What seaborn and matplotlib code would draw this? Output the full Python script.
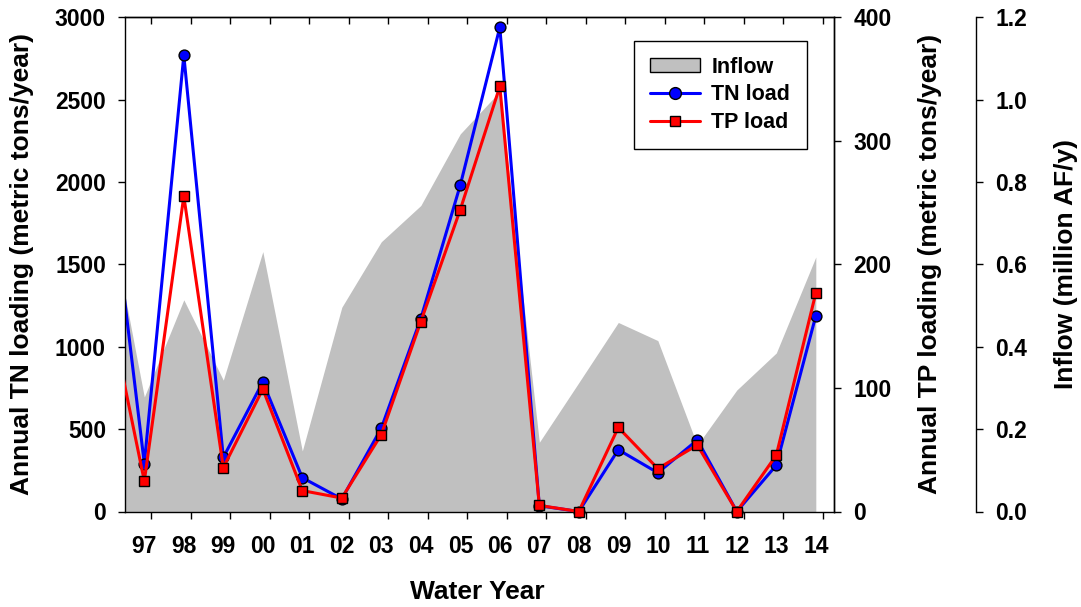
import numpy as np
import matplotlib
matplotlib.use("Agg")
import matplotlib.pyplot as plt
from matplotlib.patches import Patch
from matplotlib.lines import Line2D
from matplotlib.transforms import Bbox, TransformedBbox
from matplotlib.ticker import FixedLocator, NullFormatter, FuncFormatter
import seaborn as sns

# Water years (two-digit); the first one sits just outside the visible range
years = ["96", "97", "98", "99", "00", "01", "02", "03", "04", "05",
         "06", "07", "08", "09", "10", "11", "12", "13", "14"]
# Annual inflow (million acre-feet per year)
inflow = [0.781, 0.278, 0.514, 0.319, 0.631, 0.147, 0.496, 0.655, 0.743, 0.917,
          1.020, 0.168, 0.313, 0.459, 0.415, 0.161, 0.295, 0.385, 0.618]
# Annual total nitrogen load (metric tons/year)
tn_load = [2285, 291, 2769, 328, 786, 205, 76, 506, 1171, 1982,
           2939, 35, 0, 375, 235, 434, 0, 281, 1188]
# Annual total phosphorus load (metric tons/year)
tp_load = [180.8, 24.6, 255.3, 35.5, 99.1, 16.9, 10.9, 62.3, 153.7, 244.4,
           344.0, 4.9, 0.0, 68.0, 34.7, 53.8, 0.0, 45.6, 176.9]

tn_ticks = [0, 500, 1000, 1500, 2000, 2500, 3000]
tp_ticks = [0, 100, 200, 300, 400]
inflow_ticks = [0.0, 0.2, 0.4, 0.6, 0.8, 1.0, 1.2]

sns.set_theme(style="ticks")
plt.rcParams["font.family"] = ["Liberation Sans", "DejaVu Sans"]
plt.rcParams["font.weight"] = "bold"
plt.rcParams["axes.labelweight"] = "bold"
plt.rcParams["axes.edgecolor"] = "black"
plt.rcParams["axes.labelcolor"] = "black"
plt.rcParams["text.color"] = "black"
plt.rcParams["axes.linewidth"] = 1.0
plt.rcParams["xtick.color"] = "black"
plt.rcParams["ytick.color"] = "black"
plt.rcParams["xtick.labelcolor"] = "black"
plt.rcParams["ytick.labelcolor"] = "black"

W, H = 1081, 607
fig = plt.figure(figsize=(W / 100, H / 100), dpi=100)
fig.patch.set_facecolor("white")
left_px, right_px, top_px, bottom_px = 125, 834.3, 17.3, 511.5
ax = fig.add_axes([left_px / W, 1 - bottom_px / H,
                   (right_px - left_px) / W, (bottom_px - top_px) / H])
ax_in = ax.twinx()   # inflow (area, drawn underneath)
ax_tp = ax.twinx()   # TP load (drawn on top)

ax_in.set_zorder(0)
ax.set_zorder(1)
ax_tp.set_zorder(2)
ax.patch.set_visible(False)
ax_tp.patch.set_visible(False)
ax_in.patch.set_facecolor("white")

x = np.arange(len(years), dtype=float)

# Inflow area
ax_in.fill_between(x, inflow, 0, color="#C0C0C0", linewidth=0)

# Load lines
sns.lineplot(x=x, y=tn_load, ax=ax, color="#0000FF", linewidth=2.2,
             marker="o", markersize=7.8, markeredgecolor="black",
             markeredgewidth=1.0, legend=False)
sns.lineplot(x=x, y=tp_load, ax=ax_tp, color="#FF0000", linewidth=2.2,
             marker="s", markersize=7.2, markeredgecolor="black",
             markeredgewidth=1.0, legend=False)

# clip horizontally at the frame but let markers on the baseline overhang it
for a in (ax, ax_tp):
    clip = TransformedBbox(Bbox([[0, -0.05], [1, 1.05]]), a.transAxes)
    for ln in a.lines:
        ln.set_clip_box(clip)

xlim = (0.511, 18.468)
ax.set_xlim(*xlim)
ax.set_ylim(0, 3000)
ax_tp.set_ylim(0, 400)
ax_in.set_ylim(0, 1.2)

fs_tick = 16.5
# x axis: tick marks between labels, labels under each year
ax.xaxis.set_major_locator(FixedLocator(x[1:] + 0.17))
ax.xaxis.set_major_formatter(NullFormatter())
ax.set_xticks(x[1:], labels=years[1:], minor=True)
ax.tick_params(axis="x", which="major", direction="out", length=5.2, width=1.0)
ax.tick_params(axis="x", which="minor", length=0, pad=17, labelsize=fs_tick)
top = ax.secondary_xaxis("top")
top.xaxis.set_major_locator(FixedLocator(x[1:] + 0.17))
top.xaxis.set_major_formatter(NullFormatter())
top.tick_params(axis="x", direction="in", length=5.2, width=1.0)

ax.set_yticks(tn_ticks)
ax.tick_params(axis="y", direction="out", length=5.2, width=1.0, pad=8.5,
               labelsize=fs_tick)
ax_tp.set_yticks(tp_ticks)
ax_tp.tick_params(axis="y", direction="out", length=5.2, width=1.0, pad=8.5,
                  labelsize=fs_tick)
ax_in.set_yticks(inflow_ticks)
ax_in.yaxis.set_major_formatter(FuncFormatter(lambda v, p: f"{v:.1f}"))
ax_in.tick_params(axis="y", direction="out", length=5.2, width=1.0, pad=8.5,
                  labelsize=fs_tick)
ax_in.spines["right"].set_position(("axes", 1.2))
for s in ("left", "top", "bottom"):
    ax_in.spines[s].set_visible(False)
    ax_tp.spines[s].set_visible(False)

for lab in ax.get_xticklabels(minor=True) + ax.get_yticklabels() + \
        ax_tp.get_yticklabels() + ax_in.get_yticklabels():
    lab.set_fontweight("bold")
    lab.set_color("black")

fs_label = 19
ax.set_xlabel("Water Year", fontsize=fs_label, fontweight="bold", color="black")
ax.xaxis.set_label_coords(0.4963, -0.163)
ax.xaxis.label.set_va("center")
ax.set_ylabel("Annual TN loading (metric tons/year)", fontsize=fs_label,
              fontweight="bold", color="black")
ax.yaxis.set_label_coords(-0.1456, 0.5)
ax.yaxis.label.set_va("center")
ax_tp.set_ylabel("Annual TP loading (metric tons/year)", fontsize=fs_label,
                 fontweight="bold", color="black")
ax_tp.yaxis.set_label_coords(1.1350, 0.5)
ax_tp.yaxis.label.set_va("center")
ax_in.set_ylabel("Inflow (million AF/y)", fontsize=fs_label, fontweight="bold",
                 color="black")
ax_in.yaxis.set_label_coords(1.3267, 0.5)
ax_in.yaxis.label.set_va("center")

handles = [
    Patch(facecolor="#C0C0C0", edgecolor="black", linewidth=1.0),
    Line2D([], [], color="#0000FF", linewidth=2.2, marker="o", markersize=8.5,
           markeredgecolor="black", markeredgewidth=1.0),
    Line2D([], [], color="#FF0000", linewidth=2.2, marker="s", markersize=7.8,
           markeredgecolor="black", markeredgewidth=1.0),
]
leg = ax_tp.legend(handles, ["Inflow", "TN load", "TP load"],
                   loc="upper left", bbox_to_anchor=(0.7176, 0.9527),
                   frameon=True, fancybox=False, edgecolor="black",
                   framealpha=1, fontsize=15.5, handlelength=2.3,
                   handleheight=0.6, handletextpad=0.55, borderpad=0.75,
                   labelspacing=0.3, borderaxespad=0)
leg.get_frame().set_linewidth(1.0)
for t in leg.get_texts():
    t.set_fontweight("bold")
    t.set_color("black")

fig.savefig("out.png", dpi=100, facecolor="white")
